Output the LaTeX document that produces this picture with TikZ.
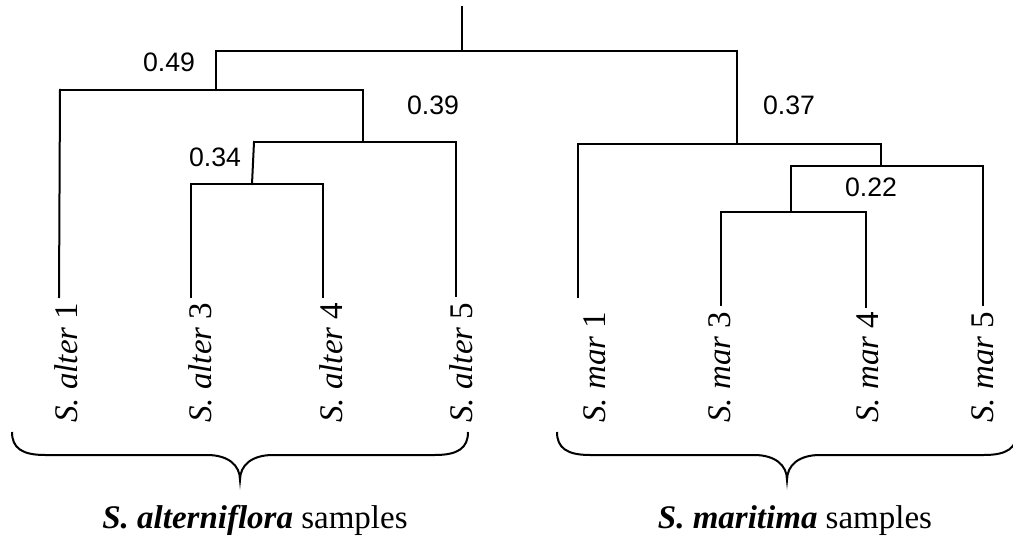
\documentclass[tikz,border=0pt]{standalone}
\usepackage{fontspec}
\setmainfont{Liberation Serif}
\newfontfamily\numfont{Liberation Sans}
\begin{document}
\begin{tikzpicture}[x=0.75pt,y=-0.75pt,
  branch/.style={line width=1.5pt,line cap=rect},
  bracepath/.style={line width=1.5pt},
  dist/.style={font=\numfont\fontsize{20}{24}\selectfont,anchor=base,inner sep=0pt},
  leaf/.style={font=\fontsize{24.75}{29}\selectfont,rotate=90,anchor=base west,inner sep=0pt},
  group/.style={font=\fontsize{24.75}{29}\selectfont,anchor=base,inner sep=0pt}]
\useasboundingbox (0,0) rectangle (1013,541);
% junction coordinates
\coordinate (rt) at (462,7);
\coordinate (r) at (462,51);
\coordinate (A) at (216,51);
\coordinate (M) at (737,51);
\coordinate (Ab) at (216,90);
\coordinate (Al) at (60,90);
\coordinate (B) at (363,90);
\coordinate (Bb) at (363,142);
\coordinate (Bl) at (254,142);
\coordinate (Br) at (456,142);
\coordinate (Cb) at (252,184);
\coordinate (Cl) at (191,184);
\coordinate (Cr) at (323,184);
\coordinate (Mb) at (737,144);
\coordinate (Ml) at (578,144);
\coordinate (Mr) at (881,144);
\coordinate (Nb) at (881,166);
\coordinate (Nl) at (791,166);
\coordinate (Nr) at (983,166);
\coordinate (Ob) at (791,212);
\coordinate (Ol) at (721,212);
\coordinate (Or) at (866,212);
% leaf ends
\coordinate (a1) at (59,297);
\coordinate (a3) at (191,297);
\coordinate (a4) at (323,297);
\coordinate (a5) at (456,296);
\coordinate (m1) at (578,297);
\coordinate (m3) at (721,305);
\coordinate (m4) at (866,307);
\coordinate (m5) at (983,305);
% tree
\draw[branch] (rt) -- (r);
\draw[branch] (A) -- (M);
\draw[branch] (A) -- (Ab);
\draw[branch] (Al) -- (B);
\draw[branch] (Al) -- (a1);
\draw[branch] (B) -- (Bb);
\draw[branch] (Bl) -- (Br);
\draw[branch] (Bl) -- (Cb);
\draw[branch] (Cl) -- (Cr);
\draw[branch] (Cl) -- (a3);
\draw[branch] (Cr) -- (a4);
\draw[branch] (Br) -- (a5);
\draw[branch] (M) -- (Mb);
\draw[branch] (Ml) -- (Mr);
\draw[branch] (Ml) -- (m1);
\draw[branch] (Mr) -- (Nb);
\draw[branch] (Nl) -- (Nr);
\draw[branch] (Nl) -- (Ob);
\draw[branch] (Ol) -- (Or);
\draw[branch] (Ol) -- (m3);
\draw[branch] (Or) -- (m4);
\draw[branch] (Nr) -- (m5);
% distances
\node[dist] (d49) at (169,72) {0.49};
\node[dist] (d39) at (433,115) {0.39};
\node[dist] (d34) at (215,167) {0.34};
\node[dist] (d37) at (789,115) {0.37};
\node[dist] (d22) at (871,197) {0.22};
% leaf labels
\node[leaf] (la1) at (77,423) {\textit{S. alter} 1};
\node[leaf] (la3) at (211,423) {\textit{S. alter} 3};
\node[leaf] (la4) at (342,423) {\textit{S. alter} 4};
\node[leaf] (la5) at (472,423) {\textit{S. alter} 5};
\node[leaf] (lm1) at (605,423) {\textit{S. mar} 1};
\node[leaf] (lm3) at (730,423) {\textit{S. mar} 3};
\node[leaf] (lm4) at (878,423) {\textit{S. mar} 4};
\node[leaf] (lm5) at (993,423) {\textit{S. mar} 5};
% braces
\draw[bracepath] (12,432) .. controls (12,448) and (22,455) .. (45,455)
  -- (207,455) .. controls (228,455) and (240,465) .. (240,480)
  .. controls (240,465) and (252,455) .. (273,455)
  -- (435,455) .. controls (458,455) and (468,448) .. (468,432);
\draw[bracepath] (557,432) .. controls (557,448) and (567,455) .. (590,455)
  -- (754,455) .. controls (775,455) and (787,465) .. (787,480)
  .. controls (787,465) and (799,455) .. (820,455)
  -- (984,455) .. controls (1007,455) and (1017,448) .. (1017,432);
% group labels
\node[group] (g1) at (255,528) {\textbf{\textit{S. alterniflora}} samples};
\node[group] (g2) at (795,528) {\textbf{\textit{S. maritima}} samples};
\end{tikzpicture}
\end{document}
